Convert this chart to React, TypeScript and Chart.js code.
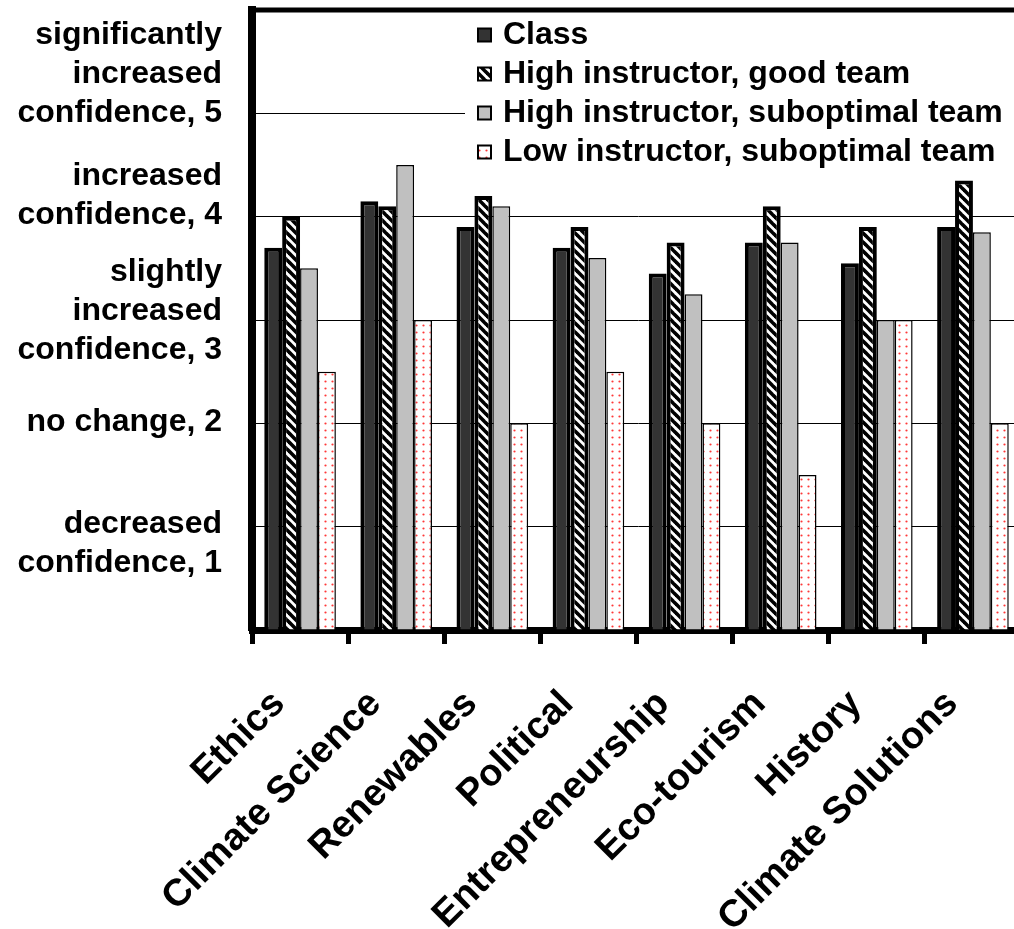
import React, { useEffect, useRef } from 'react';
import { Chart, registerables } from 'chart.js';

Chart.register(...registerables);

const categories = ['Ethics', 'Climate Science', 'Renewables', 'Political', 'Entrepreneurship', 'Eco-tourism', 'History', 'Climate Solutions'];
const seriesNames = ['Class', 'High instructor, good team', 'High instructor, suboptimal team', 'Low instructor, suboptimal team'];
const classValues = [3.7, 4.15, 3.9, 3.7, 3.45, 3.75, 3.55, 3.9];
const highGoodValues = [4.0, 4.1, 4.2, 3.9, 3.75, 4.1, 3.9, 4.35];
const highSubValues = [3.5, 4.5, 4.1, 3.6, 3.25, 3.75, 3.0, 3.85];
const lowSubValues = [2.5, 3.0, 2.0, 2.5, 2.0, 1.5, 3.0, 2.0];
const yTickValues = [5, 4, 3, 2, 1];
const yTickLabels = [
  ['significantly', 'increased', 'confidence, 5'],
  ['increased', 'confidence, 4'],
  ['slightly', 'increased', 'confidence, 3'],
  ['no change, 2'],
  ['decreased', 'confidence, 1'],
];

const FONT = 'bold 32px "Liberation Sans", Arial, sans-serif';
const X_FONT = 'bold 38px "Liberation Sans", Arial, sans-serif';
const Y_LABEL_SHIFT = [-78, -40, -48, -1, -2];
const LINE_STEP = 39;

function makeHatch(): CanvasPattern | string {
  const c = document.createElement('canvas');
  c.width = 9;
  c.height = 9;
  const g = c.getContext('2d');
  if (!g) return '#888';
  g.fillStyle = '#fff';
  g.fillRect(0, 0, 9, 9);
  g.strokeStyle = '#000';
  g.lineWidth = 3.6;
  for (const k of [-9, 0, 9]) {
    g.beginPath();
    g.moveTo(-1, k - 1);
    g.lineTo(10, k + 10);
    g.stroke();
  }
  return g.createPattern(c, 'repeat') || '#888';
}

function makeDots(): CanvasPattern | string {
  const c = document.createElement('canvas');
  c.width = 7;
  c.height = 7;
  const g = c.getContext('2d');
  if (!g) return '#fee';
  g.fillStyle = '#fff';
  g.fillRect(0, 0, 7, 7);
  g.fillStyle = '#ff3838';
  g.beginPath();
  g.arc(3.5, 3.5, 1.1, 0, Math.PI * 2);
  g.fill();
  return g.createPattern(c, 'repeat') || '#fee';
}

export default function App() {
  const ref = useRef<HTMLCanvasElement | null>(null);

  useEffect(() => {
    const canvas = ref.current;
    if (!canvas) return;
    const hatch = makeHatch();
    const dots = makeDots();
    const fills: any[] = ['#333333', hatch, '#c0c0c0', dots];
    const borders = [4, 4, 1.5, 1.5];
    const values = [classValues, highGoodValues, highSubValues, lowSubValues];

    const decor = {
      id: 'decor',
      afterDraw(chart: any) {
        const { ctx, chartArea: ca, scales } = chart;
        const ys = scales.y;
        const xs = scales.x;
        ctx.save();
        // frame top / right
        ctx.strokeStyle = '#000';
        ctx.lineWidth = 5;
        ctx.beginPath();
        ctx.moveTo(ca.left - 4, ca.top);
        ctx.lineTo(ca.right, ca.top);
        ctx.lineTo(ca.right, ca.bottom);
        ctx.stroke();

        ctx.font = FONT;
        ctx.fillStyle = '#000';

        // y labels
        ctx.textAlign = 'right';
        ctx.textBaseline = 'middle';
        yTickValues.forEach((v, i) => {
          const base = ys.getPixelForValue(v) + Y_LABEL_SHIFT[i];
          yTickLabels[i].forEach((line, j) => {
            ctx.fillText(line, ca.left - 30, base + j * LINE_STEP);
          });
        });

        // x labels
        ctx.font = X_FONT;
        categories.forEach((cat, i) => {
          const cx = xs.getPixelForValue(i);
          ctx.save();
          ctx.translate(cx - 21, ca.bottom + 68);
          ctx.rotate(-Math.PI / 4);
          ctx.textAlign = 'right';
          ctx.textBaseline = 'middle';
          ctx.fillText(cat, 0, 0);
          ctx.restore();
        });

        // legend
        ctx.font = FONT;
        const lx = ca.left + 213;
        ctx.fillStyle = '#fff';
        ctx.fillRect(lx, ca.top + 6, ca.right - lx - 3, 158);
        seriesNames.forEach((name, i) => {
          const cy = ca.top + 25 + i * 39;
          const bx = ca.left + 226;
          ctx.fillStyle = fills[i];
          ctx.fillRect(bx, cy - 6.5, 13, 13);
          ctx.lineWidth = 2;
          ctx.strokeStyle = '#000';
          ctx.strokeRect(bx, cy - 6.5, 13, 13);
          ctx.fillStyle = '#000';
          ctx.textAlign = 'left';
          ctx.textBaseline = 'middle';
          ctx.fillText(name, ca.left + 251, cy);
        });
        ctx.restore();
      },
    };

    const chart = new Chart(canvas, {
      type: 'bar',
      data: {
        labels: categories,
        datasets: seriesNames.map((name, i) => ({
          label: name,
          data: values[i],
          backgroundColor: fills[i],
          borderColor: '#000',
          borderWidth: borders[i],
          categoryPercentage: 0.745,
          barPercentage: 1.0,
        })),
      },
      options: {
        responsive: false,
        animation: false,
        devicePixelRatio: 1,
        layout: { padding: { left: 252, right: 9, top: 10, bottom: 299 } },
        plugins: { legend: { display: false }, tooltip: { enabled: false } },
        scales: {
          x: {
            type: 'category',
            offset: true,
            grid: {
              display: true,
              drawOnChartArea: false,
              drawTicks: true,
              tickLength: 14,
              tickWidth: 5,
              tickColor: '#000',
              color: '#000',
              offset: true,
            },
            border: { display: true, width: 7, color: '#000' },
            ticks: { display: false },
            afterFit: (s: any) => {
              s.height = 0;
            },
          },
          y: {
            min: 0,
            max: 6,
            ticks: { display: false, stepSize: 1 },
            grid: { color: '#000', lineWidth: 1, drawTicks: false },
            border: { display: true, width: 8, color: '#000' },
            afterFit: (s: any) => {
              s.width = 0;
            },
          },
        },
      },
      plugins: [decor],
    } as any);

    return () => chart.destroy();
  }, []);

  return (
    <div style={{ position: 'absolute', left: 0, top: 0, width: 1014, height: 929, overflow: 'hidden', background: '#fff' }}>
      <canvas ref={ref} width={1030} height={929} style={{ display: 'block', width: 1030, height: 929 }} />
    </div>
  );
}
